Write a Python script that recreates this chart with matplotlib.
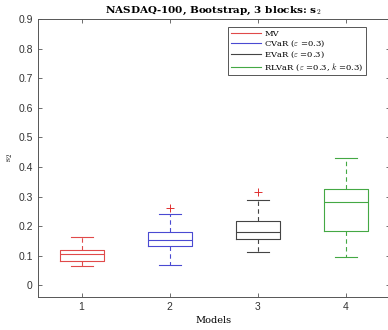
import matplotlib
matplotlib.use("Agg")
import matplotlib.pyplot as plt
from matplotlib.lines import Line2D

plt.rcParams['mathtext.fontset'] = 'cm'
plt.rcParams['font.family'] = ['Liberation Sans', 'DejaVu Sans']

# box statistics per model (s2)
models = ['MV', r'CVaR ($\varepsilon$ =0.3)', r'EVaR ($\varepsilon$ =0.3)',
          r'RLVaR ($\varepsilon$ =0.3, $k$ =0.3)']
whislo = [0.065, 0.069, 0.113, 0.095]
q1 = [0.084, 0.132, 0.157, 0.183]
med = [0.105, 0.155, 0.181, 0.282]
q3 = [0.119, 0.180, 0.218, 0.327]
whishi = [0.164, 0.240, 0.288, 0.429]
fliers = [[], [0.260], [0.316], []]
colors = ['#e04a4a', '#4a4ad2', '#444444', '#44a844']

stats = []
for i in range(4):
    stats.append(dict(whislo=whislo[i], q1=q1[i], med=med[i], q3=q3[i],
                      whishi=whishi[i], fliers=fliers[i]))

fig = plt.figure(figsize=(3.88, 3.30), dpi=100)
ax = fig.add_axes([0.097, 0.101, 0.907, 0.8415])

for i, st in enumerate(stats):
    c = colors[i]
    ax.bxp([st], positions=[i + 1], widths=0.5, capwidths=0.25,
           boxprops=dict(color=c, lw=0.8),
           medianprops=dict(color=c, lw=0.8),
           whiskerprops=dict(color=c, lw=0.8, linestyle=(0, (4, 3))),
           capprops=dict(color=c, lw=0.8),
           flierprops=dict(marker='+', markeredgecolor='#e03030',
                           markersize=6, markeredgewidth=0.7, linestyle='none'))

ax.set_xlim(0.5, 4.5)
ax.set_ylim(-0.038, 0.9)
ax.set_xticks([1, 2, 3, 4])
ax.set_xticklabels(['1', '2', '3', '4'])
ax.set_yticks([0, 0.1, 0.2, 0.3, 0.4, 0.5, 0.6, 0.7, 0.8, 0.9])
ax.set_yticklabels(['0', '0.1', '0.2', '0.3', '0.4', '0.5', '0.6', '0.7', '0.8', '0.9'])

gray = '#555555'
for s in ax.spines.values():
    s.set_color(gray)
    s.set_linewidth(0.7)
ax.tick_params(direction='in', length=3, width=0.6, colors=gray,
               labelcolor='#333333', labelsize=7.5, top=True, right=True)

ax.set_title(r'NASDAQ-100, Bootstrap, 3 blocks: s$_\mathbf{2}$', fontsize=7.5,
             fontfamily='DejaVu Serif', fontweight='bold', pad=4)
ax.set_xlabel('Models', fontsize=7, fontfamily='DejaVu Serif', labelpad=3)
ax.set_ylabel(r'$\mathrm{s}_2$', fontsize=7, labelpad=2)

handles = [Line2D([0], [0], color=c, lw=0.8) for c in colors]
leg = ax.legend(handles, models, loc='upper right',
                prop={'family': 'DejaVu Serif', 'size': 6},
                handlelength=3.6, handletextpad=0.4, labelspacing=0.12,
                borderpad=0.3, fancybox=False, framealpha=1,
                bbox_to_anchor=(0.945, 0.985))
leg.get_frame().set_edgecolor(gray)
leg.get_frame().set_linewidth(0.7)

fig.savefig('out.png', dpi=100)
